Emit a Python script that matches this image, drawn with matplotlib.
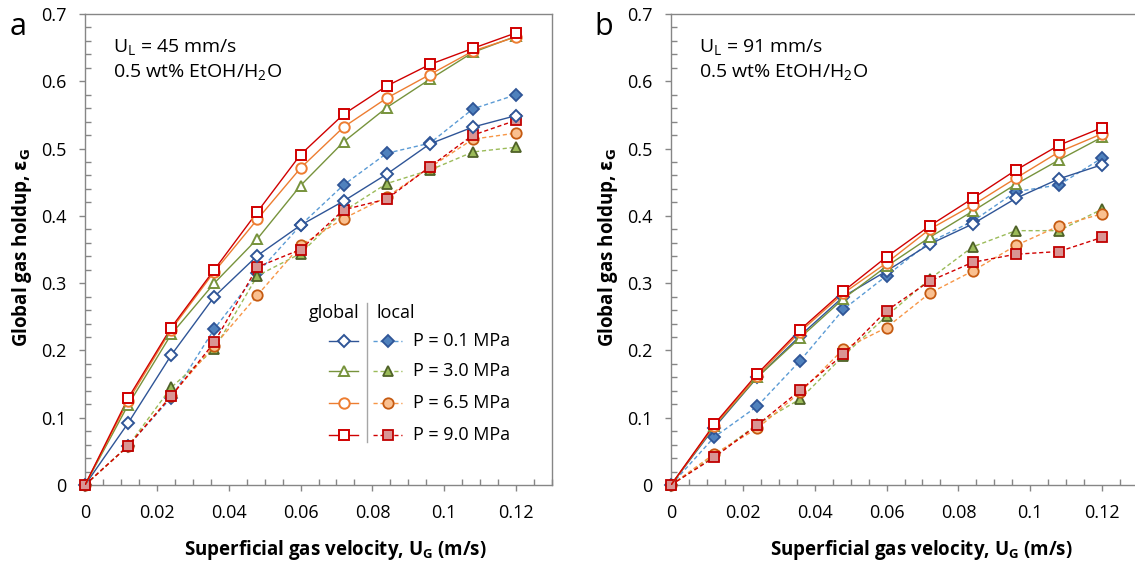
import matplotlib
matplotlib.use("Agg")
import matplotlib.pyplot as plt
from matplotlib.ticker import MultipleLocator, FixedLocator
from matplotlib.lines import Line2D

plt.rcParams['font.family'] = ['Open Sans', 'DejaVu Sans']

# ---------------- data ----------------
ug = [0, 0.012, 0.024, 0.036, 0.048, 0.060, 0.072, 0.084, 0.096, 0.108, 0.120]
pressures = ['P = 0.1 MPa', 'P = 3.0 MPa', 'P = 6.5 MPa', 'P = 9.0 MPa']

# panel a  (U_L = 45 mm/s)
a_glob_01 = [0, .092, .193, .280, .341, .386, .422, .462, .507, .532, .549]
a_glob_30 = [0, .119, .224, .300, .366, .445, .510, .561, .603, .643, .667]
a_glob_65 = [0, .125, .231, .317, .395, .471, .532, .575, .610, .645, .666]
a_glob_90 = [0, .129, .234, .320, .406, .491, .551, .593, .625, .649, .672]
a_loc_01 = [0, .058, .130, .232, .315, .386, .446, .493, .508, .559, .580]
a_loc_30 = [0, .058, .145, .202, .311, .344, .407, .448, .468, .495, .502]
a_loc_65 = [0, .058, .133, .207, .282, .356, .396, .428, .472, .514, .523]
a_loc_90 = [0, .058, .132, .212, .324, .350, .409, .425, .473, .520, .542]

# panel b  (U_L = 91 mm/s)
b_glob_01 = [0, .085, .160, .222, .280, .318, .358, .388, .426, .455, .476]
b_glob_30 = [0, .087, .160, .219, .277, .325, .368, .407, .447, .483, .517]
b_glob_65 = [0, .088, .162, .228, .285, .330, .380, .416, .456, .495, .522]
b_glob_90 = [0, .090, .165, .231, .288, .339, .385, .426, .468, .505, .531]
b_loc_01 = [0, .071, .117, .185, .261, .311, .361, .392, .436, .446, .486]
b_loc_30 = [0, .043, .090, .128, .192, .251, .306, .354, .378, .378, .410]
b_loc_65 = [0, .046, .084, .138, .202, .234, .285, .318, .356, .385, .403]
b_loc_90 = [0, .041, .089, .141, .194, .259, .303, .331, .343, .347, .368]

x_ticks = [0, 0.02, 0.04, 0.06, 0.08, 0.10, 0.12]
x_ticklabels = ['0', '0.02', '0.04', '0.06', '0.08', '0.1', '0.12']
y_ticks = [0, 0.1, 0.2, 0.3, 0.4, 0.5, 0.6, 0.7]
y_ticklabels = ['0', '0.1', '0.2', '0.3', '0.4', '0.5', '0.6', '0.7']

# ---------------- styles ----------------
markers = ['D', '^', 'o', 's']
msizes = [6.0, 7.5, 7.5, 7.0]
glob_line = ['#2F5597', '#77933C', '#ED7D31', '#D00000']
glob_edge = ['#2F5597', '#77933C', '#ED7D31', '#D00000']
loc_line = ['#5B9BD5', '#9BBB59', '#F79646', '#D00000']
loc_face = ['#4F81BD', '#9BBB59', '#FAC090', '#D99594']
loc_edge = ['#2F5597', '#4F6228', '#C55A11', '#C00000']
dash = (0, (3.0, 2.0))

W, H = 1135, 565
fig = plt.figure(figsize=(W / 100, H / 100), dpi=100)


def fx(px):
    return px / W


def fy(py):
    return 1 - py / H


def make_axes(left, right, top, bottom):
    return fig.add_axes([fx(left), fy(bottom), fx(right) - fx(left), fy(top) - fy(bottom)])


axA = make_axes(85, 552, 14, 485)
axB = make_axes(671, 1138, 14, 485)

panels = [
    (axA, [a_glob_01, a_glob_30, a_glob_65, a_glob_90], [a_loc_01, a_loc_30, a_loc_65, a_loc_90], '45'),
    (axB, [b_glob_01, b_glob_30, b_glob_65, b_glob_90], [b_loc_01, b_loc_30, b_loc_65, b_loc_90], '91'),
]

for ax, globs, locs, ul in panels:
    for i in range(4):
        ax.plot(ug, locs[i], linestyle=dash, lw=1.0, color=loc_line[i], marker=markers[i],
                ms=msizes[i], mfc=loc_face[i], mec=loc_edge[i], mew=1.3, zorder=3 + i * 0.01,
                clip_on=False)
    for i in range(4):
        ax.plot(ug[1:], globs[i][1:], linestyle='none', marker=markers[i],
                ms=msizes[i], mfc='white', mec=glob_edge[i], mew=1.4, zorder=4 + i * 0.01)
        ax.plot(ug, globs[i], linestyle='-', lw=1.0, color=glob_line[i], zorder=3.9)
    ax.set_xlim(0, 0.13)
    ax.set_ylim(0, 0.7)
    ax.xaxis.set_major_locator(FixedLocator(x_ticks))
    ax.set_xticklabels(x_ticklabels)
    ax.yaxis.set_major_locator(FixedLocator(y_ticks))
    ax.set_yticklabels(y_ticklabels)
    ax.xaxis.set_minor_locator(MultipleLocator(0.005))
    ax.yaxis.set_minor_locator(MultipleLocator(0.02))
    ax.tick_params(which='major', direction='out', length=4.5, width=1.0, color='#868686',
                   labelsize=13, labelcolor='black')
    ax.tick_params(axis='x', which='major', pad=9)
    ax.tick_params(axis='y', which='major', pad=9)
    ax.tick_params(which='minor', direction='in', length=4, width=1.0, color='#868686')
    for s in ax.spines.values():
        s.set_color('#868686')
        s.set_linewidth(1.0)
    ax.set_xlabel('Superficial gas velocity, U$_\\mathregular{G}$ (m/s)', fontsize=13.5,
                  fontweight='bold', va='center')
    ax.xaxis.set_label_coords(0.535, -0.137)
    ax.set_ylabel('Global gas holdup, $\\mathbf{\\varepsilon_G}$', fontsize=13.5,
                  fontweight='bold', va='center')
    ax.yaxis.set_label_coords(-0.135, 0.505)
    ax.text(0.06, 0.928, 'U$_\\mathregular{L}$ = ' + ul + ' mm/s', transform=ax.transAxes,
            fontsize=14, va='center', ha='left')
    ax.text(0.06, 0.876, '0.5 wt% EtOH/H$_\\mathregular{2}$O', transform=ax.transAxes,
            fontsize=14, va='center', ha='left')

fig.text(fx(18), fy(27), 'a', fontsize=22, ha='center', va='center')
fig.text(fx(604), fy(27), 'b', fontsize=22, ha='center', va='center')

# ---------------- custom legend (panel a) ----------------
row_y = [341, 371, 403, 435]
for i in range(4):
    y = fy(row_y[i])
    fig.add_artist(Line2D([fx(329), fx(358)], [y, y], color=glob_line[i], lw=1.0,
                          transform=fig.transFigure))
    fig.add_artist(Line2D([fx(344)], [y], marker=markers[i], ms=msizes[i], mfc='white',
                          mec=glob_edge[i], mew=1.4, linestyle='none', transform=fig.transFigure))
    fig.add_artist(Line2D([fx(373), fx(402)], [y, y], color=loc_line[i], lw=1.0, linestyle=dash,
                          transform=fig.transFigure))
    fig.add_artist(Line2D([fx(388)], [y], marker=markers[i], ms=msizes[i], mfc=loc_face[i],
                          mec=loc_edge[i], mew=1.3, linestyle='none', transform=fig.transFigure))
    fig.text(fx(413), y, pressures[i], fontsize=13, ha='left', va='center')
fig.text(fx(359), fy(313), 'global', fontsize=13, ha='right', va='center')
fig.text(fx(376), fy(313), 'local', fontsize=13, ha='left', va='center')
fig.add_artist(Line2D([fx(367), fx(367)], [fy(303), fy(442)], color='#A6A6A6', lw=1.0,
                      transform=fig.transFigure))

fig.savefig('out.png', dpi=100)
